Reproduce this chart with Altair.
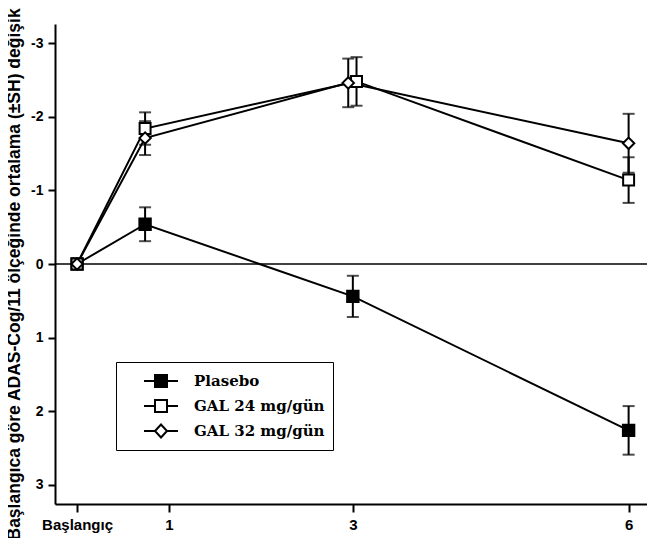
import altair as alt
import pandas as pd

# ---- data ----
months = [0, 0.74, 3, 6]
series_names = ["Plasebo", "GAL 24 mg/gün", "GAL 32 mg/gün"]
x_offsets = {"Plasebo": [0, 0, 0, 0],
             "GAL 24 mg/gün": [0, 0, 0.04, 0],
             "GAL 32 mg/gün": [0, 0, -0.05, 0]}
placebo = [0, -0.54, 0.44, 2.26]
placebo_se = [0, 0.23, 0.28, 0.33]
gal24 = [0, -1.84, -2.48, -1.14]
gal24_se = [0, 0.22, 0.33, 0.31]
gal32 = [0, -1.71, -2.46, -1.64]
gal32_se = [0, 0.23, 0.33, 0.40]
x_ticks = [0, 1, 3, 6]
y_ticks = [-3, -2, -1, 0, 1, 2, 3]

rows = []
for name, vals, ses in [("Plasebo", placebo, placebo_se),
                        ("GAL 24 mg/gün", gal24, gal24_se),
                        ("GAL 32 mg/gün", gal32, gal32_se)]:
    for i, (m, v, s) in enumerate(zip(months, vals, ses)):
        rows.append({"series": name, "month": m + x_offsets[name][i], "value": v,
                     "lo": v - s, "hi": v + s, "se": s})
df = pd.DataFrame(rows)
df_err = df[df["se"] > 0]

xscale = alt.Scale(domain=[-0.24, 6.2], nice=False, zero=False)
yscale = alt.Scale(domain=[-3.26, 3.26], reverse=True, nice=False, zero=False)

x_axis = alt.Axis(values=x_ticks, title=None, grid=False,
                  labelExpr="datum.value == 0 ? 'Başlangıç' : format(datum.value, 'd')",
                  labelFont="Liberation Sans", labelFontWeight="bold", labelFontSize=15,
                  labelColor="black", tickColor="black", domainColor="black",
                  tickSize=8, tickWidth=2, domainWidth=2, labelPadding=5)
y_axis = alt.Axis(values=y_ticks, grid=False,
                  title="Başlangıca göre ADAS-Cog/11 ölçeğinde ortalama (±SH) değişiklik",
                  titleFont="Liberation Sans", titleFontWeight="bold", titleFontSize=17.5,
                  titleColor="black", titleAngle=270, titleAlign="left",
                  titleBaseline="middle", titleX=-41, titleY=516,
                  labelExpr="datum.value < 0 ? '-' + format(-datum.value, 'd') : format(datum.value, 'd')",
                  labelFont="Liberation Sans", labelFontWeight="bold", labelFontSize=14,
                  labelColor="black", tickColor="black", domainColor="black",
                  tickSize=7, tickWidth=2, domainWidth=2, labelPadding=5)

base = alt.Chart(df)

zero = alt.Chart(pd.DataFrame({"z": [0]})).mark_rule(color="black", strokeWidth=1.5).encode(
    y=alt.Y("z:Q", scale=yscale, axis=y_axis))

lines = base.mark_line(color="black", strokeWidth=2).encode(
    x=alt.X("month:Q", scale=xscale, axis=x_axis),
    y=alt.Y("value:Q", scale=yscale),
    detail="series:N")

err = alt.Chart(df_err).mark_rule(color="black", strokeWidth=2).encode(
    x=alt.X("month:Q", scale=xscale),
    y=alt.Y("lo:Q", scale=yscale),
    y2="hi:Q")
cap_lo = alt.Chart(df_err).mark_tick(color="black", orient="horizontal", size=12, thickness=2).encode(
    x=alt.X("month:Q", scale=xscale), y=alt.Y("lo:Q", scale=yscale))
cap_hi = alt.Chart(df_err).mark_tick(color="black", orient="horizontal", size=12, thickness=2).encode(
    x=alt.X("month:Q", scale=xscale), y=alt.Y("hi:Q", scale=yscale))


def pts(name, shape, fill, size):
    return base.transform_filter(alt.datum.series == name).mark_point(
        shape=shape, fill=fill, stroke="black", strokeWidth=2, size=size, opacity=1
    ).encode(x=alt.X("month:Q", scale=xscale), y=alt.Y("value:Q", scale=yscale))


p_pl = pts("Plasebo", "square", "black", 130)
p_24 = pts("GAL 24 mg/gün", "square", "white", 120)
p_32 = pts("GAL 32 mg/gün", "diamond", "white", 130)

sq = "M-1.7,0L-0.6,0M-0.6,-0.6L0.6,-0.6L0.6,0.6L-0.6,0.6ZM0.6,0L1.7,0"
dm = "M-1.7,0L-0.6,0M-0.6,0L0,-0.65L0.6,0L0,0.65ZM0.6,0L1.7,0"

legend = alt.Legend(
    title=None, orient="none", legendX=61, legendY=338, direction="vertical",
    strokeColor="black", fillColor="white", padding=8,
    labelFont="DejaVu Serif", labelFontSize=15, labelFontWeight="bold", labelColor="black",
    labelExpr="datum.label + '\u00a0\u00a0\u00a0\u00a0\u00a0\u00a0'",
    symbolSize=400, symbolStrokeWidth=2, symbolStrokeColor="black", symbolOpacity=1,
    symbolOffset=26, labelOffset=22, rowPadding=4)

leg_layer = base.transform_filter("false").mark_point(strokeWidth=2, opacity=1).encode(
    x=alt.X("month:Q", scale=xscale),
    y=alt.Y("value:Q", scale=yscale),
    shape=alt.Shape("series:N", scale=alt.Scale(domain=series_names, range=[sq, sq, dm]),
                    legend=legend),
    fill=alt.Fill("series:N", scale=alt.Scale(domain=series_names,
                                               range=["black", "white", "white"]),
                  legend=legend),
    stroke=alt.Stroke("series:N", scale=alt.Scale(domain=series_names,
                                                   range=["black", "black", "black"]),
                      legend=legend))

chart = alt.layer(zero, lines, err, cap_lo, cap_hi, p_pl, p_24, p_32, leg_layer).properties(
    width=592, height=480,
    autosize=alt.AutoSizeParams(type="none"),
    padding={"left": 47, "top": 16, "right": 0, "bottom": 34},
    background="white",
).configure_view(stroke=None)

chart.save("out.html", embed_options={"renderer": "svg", "actions": False})
